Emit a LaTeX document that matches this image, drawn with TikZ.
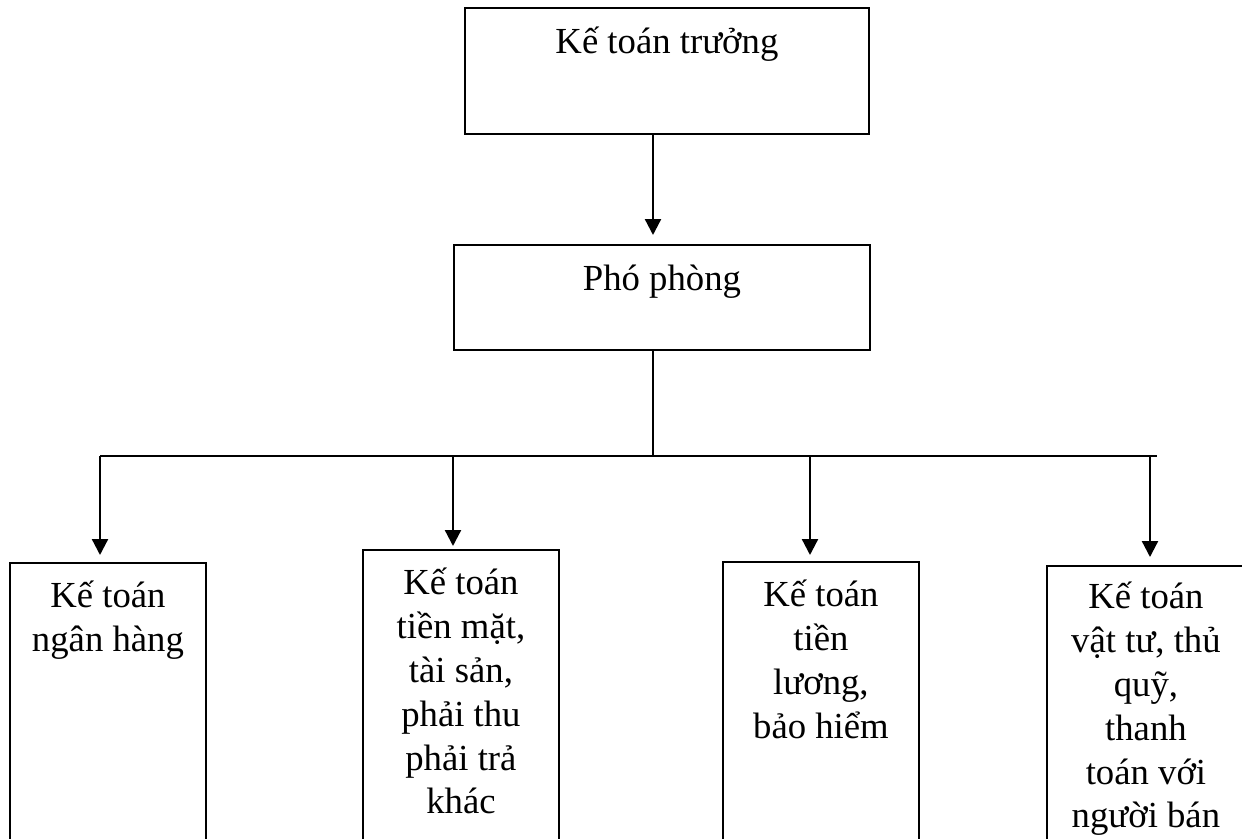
\documentclass[tikz,border=0pt]{standalone}
\usepackage{fontspec}
\setmainfont{Liberation Serif}
\usetikzlibrary{arrows.meta}
\begin{document}
\begin{tikzpicture}[x=0.02cm,y=-0.02cm,
  box/.style={draw,line width=1.1pt,rectangle,inner sep=0pt,anchor=north west},
  lbl/.style={anchor=north,inner sep=0pt,align=center,
    font=\fontsize{20.9pt}{25.0pt}\selectfont},
  bus/.style={line width=0.8pt},
  drop/.style={line width=1.3pt,-{Triangle[width=0.32cm,length=0.32cm]}},
]
\clip (0,0) rectangle (1242,839);
\path[use as bounding box] (0,0) rectangle (1242,839);

% boxes
\node[box,minimum width=8.08cm,minimum height=2.52cm] (ktt) at (464,7) {};
\node[box,minimum width=8.32cm,minimum height=2.1cm] (pp) at (453,244) {};
\node[box,minimum width=3.92cm,minimum height=5.76cm] (b1) at (9,562) {};
\node[box,minimum width=3.92cm,minimum height=6.02cm] (b2) at (362,549) {};
\node[box,minimum width=3.92cm,minimum height=5.78cm] (b3) at (722,561) {};
\node[box,minimum width=3.96cm,minimum height=5.7cm] (b4) at (1046,565) {};

% labels, first baseline a fixed distance below each box top
\node[lbl] (tktt) at (ktt.north) {\rule{0pt}{0.92cm}Kế toán trưởng};
\node[lbl] (tpp) at (pp.north) {\rule{0pt}{0.92cm}Phó phòng};
\node[lbl] (tb1) at (b1.north) {\rule{0pt}{0.9cm}Kế toán\\ngân hàng};
\node[lbl] (tb2) at (b2.north) {\rule{0pt}{0.9cm}Kế toán\\tiền mặt,\\tài sản,\\phải thu\\phải trả\\khác};
\node[lbl] (tb3) at (b3.north) {\rule{0pt}{0.9cm}Kế toán\\tiền\\lương,\\bảo hiểm};
\node[lbl] (tb4) at (b4.north) {\rule{0pt}{0.86cm}Kế toán\\vật tư, thủ\\quỹ,\\thanh\\toán với\\người bán};

% connector points
\coordinate (trunk) at (653,0);
\coordinate (busL) at (100,456);
\coordinate (busR) at (1157,456);
\coordinate (d2) at (453,456);
\coordinate (d3) at (810,456);
\coordinate (d4) at (1150,456);

% connectors
\draw[drop,shorten >=0.18cm] (ktt.south -| trunk) -- (pp.north -| trunk);
\draw[bus] (pp.south -| trunk) -- (trunk |- busL);
\draw[bus] (busL) -- (busR);
\draw[drop,shorten >=0.14cm] (busL) -- (b1.north -| busL);
\draw[drop,shorten >=0.06cm] (d2) -- (b2.north -| d2);
\draw[drop,shorten >=0.12cm] (d3) -- (b3.north -| d3);
\draw[drop,shorten >=0.16cm] (d4) -- (b4.north -| d4);
\end{tikzpicture}
\end{document}
